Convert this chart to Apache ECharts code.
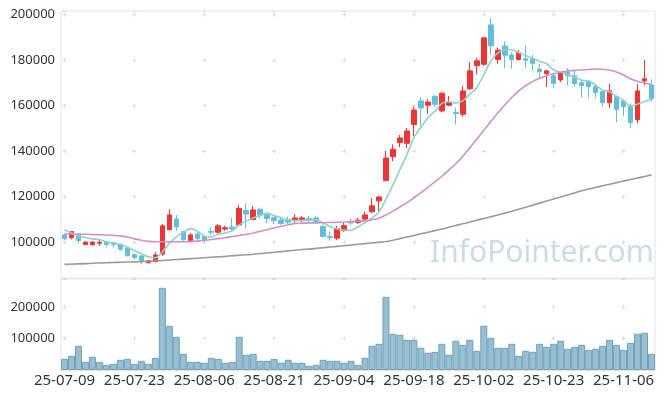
<!DOCTYPE html>
<html>
<head>
<meta charset="utf-8">
<script src="https://cdn.jsdelivr.net/npm/echarts@6/dist/echarts.min.js"></script>
<style>
  html, body { margin: 0; padding: 0; background: #fff; }
  #chart { width: 665px; height: 397px; }
</style>
</head>
<body>
<div id="chart"></div>
<script>
const dates = [
  '25-07-09','25-07-10','25-07-11','25-07-14','25-07-15','25-07-16','25-07-17','25-07-18','25-07-21','25-07-22',
  '25-07-23','25-07-24','25-07-25','25-07-28','25-07-29','25-07-30','25-07-31','25-08-01','25-08-04','25-08-05',
  '25-08-06','25-08-07','25-08-08','25-08-11','25-08-12','25-08-13','25-08-14','25-08-18','25-08-19','25-08-20',
  '25-08-21','25-08-22','25-08-25','25-08-26','25-08-27','25-08-28','25-08-29','25-09-01','25-09-02','25-09-03',
  '25-09-04','25-09-05','25-09-08','25-09-09','25-09-10','25-09-11','25-09-12','25-09-15','25-09-16','25-09-17',
  '25-09-18','25-09-19','25-09-22','25-09-23','25-09-24','25-09-25','25-09-26','25-09-29','25-09-30','25-10-01',
  '25-10-02','25-10-10','25-10-13','25-10-14','25-10-15','25-10-16','25-10-17','25-10-20','25-10-21','25-10-22',
  '25-10-23','25-10-24','25-10-27','25-10-28','25-10-29','25-10-30','25-10-31','25-11-03','25-11-04','25-11-05',
  '25-11-06','25-11-07','25-11-10','25-11-11','25-11-12'
]

const opens = [
  103200,102000,103600,99000,98900,99600,100000,99800,99100,97400,
  94600,94000,91000,91500,94800,105500,110200,104700,100700,103600,
  102500,104800,104400,105800,106700,107600,113900,110000,114500,112100,
  110800,109800,110100,109800,109500,110500,110700,106900,102500,101800,
  105100,109000,108700,110200,113400,118200,127100,137600,143800,143500,
  151700,162100,160200,164100,157700,160200,157100,156200,167400,177600,
  178200,195500,180300,186200,182300,180300,180600,180600,176100,174100,
  173100,171300,174600,173100,170100,170600,168400,166200,161300,164000,
  162100,160000,153900,170900,169100
]
const closes = [
  101600,104700,100800,100100,100100,100000,99000,99100,96900,94100,
  93200,91900,91900,94400,107200,112000,106700,101100,103200,101600,
  101100,104400,107200,106400,105800,114900,112400,114200,111900,110400,
  109500,108200,108900,110700,110700,109800,109200,102500,102000,106000,
  107300,108500,109700,112000,116000,119900,137000,140900,145800,148900,
  158100,159000,161600,160600,165500,161600,156500,166500,175300,179700,
  189800,186300,184400,182200,180200,183300,180000,178600,175000,175300,
  169800,174600,173100,169700,168800,168400,165700,161300,166500,158300,
  159600,152600,166500,171800,163000
]
const lows = [
  101000,101300,99700,98800,98500,98500,97800,97800,96300,93700,
  92500,90300,90700,91200,94000,105300,105000,100700,100000,100900,
  100000,103200,103800,105000,105300,107000,106200,109800,110400,108300,
  107900,107600,108000,108600,108900,108800,108000,102300,100700,101000,
  104700,107500,107900,109800,112800,113700,127000,135600,141700,141400,
  146700,151100,156400,159500,157100,159900,151800,155200,166900,173800,
  177500,182300,178400,176500,176200,179800,176500,175400,172000,168200,
  167600,170400,169000,168400,163700,163700,163700,159400,159000,152700,
  155500,150100,152300,169000,161800
]
const highs = [
  103700,105000,104000,100400,100400,101000,100300,100100,99300,97600,
  95000,94300,92200,95600,108000,114500,112000,105000,104100,104500,
  102800,106600,108000,107200,110800,116400,117000,116000,115300,113000,
  111300,111000,111200,112400,111500,111600,111400,107600,104700,107200,
  108600,110500,110600,113500,119400,120300,140200,143000,147100,150200,
  159600,163700,162800,164600,166000,164300,158900,168800,179100,181000,
  190200,198400,185600,188300,183500,184400,186700,182300,178500,175600,
  174300,174800,176500,175700,171200,171200,169200,166600,169600,164500,
  162800,161000,169400,180100,171600
]
const volumes = [
  35400,44900,76600,25900,41800,25900,16400,19600,32300,35400,
  19600,29100,19600,38600,260100,139900,105100,51300,25900,25900,
  22800,38600,35400,22800,25900,105100,48100,51300,29100,29100,
  35400,22800,32300,22800,22800,13300,16400,32300,29100,29100,
  22800,29100,16400,38600,76600,82900,231600,114600,111400,95600,
  95600,70300,54400,57600,82900,48100,92400,79700,95600,60800,
  139900,101900,70300,70300,82900,44900,60800,57600,82900,73400,
  82900,92400,67100,73400,79700,63900,67100,76600,95600,79700,
  63900,86100,114600,117700,51300
]
const ma5 = [
  105400,104200,102800,102100,101500,101200,100200,99700,99000,97800,
  96400,95000,93600,93200,95700,99500,102400,104300,106000,104900,
  102700,102300,103500,104100,105000,107700,109300,110700,111800,112800,
  111700,110800,109800,109500,109600,109700,109900,108600,106800,105900,
  105400,105300,106700,108700,110700,113300,118900,125200,131900,138500,
  146100,150500,154700,157600,161000,161700,161200,162100,165100,167900,
  173600,179500,183100,184500,184600,183300,182000,180900,179400,178400,
  175700,174700,173600,172500,171200,170900,169100,166800,166100,164000,
  162300,159700,160700,161800,162700
]
const ma20 = [
  103600,103600,103500,103500,103400,103300,103200,103000,102800,102300,
  101500,100900,100400,100200,100200,100200,100200,100200,100300,100500,
  100800,101200,101600,102000,102500,103000,103500,104100,104800,105500,
  106300,107000,107700,108300,108400,108500,108500,108600,108700,108800,
  108900,109100,109200,109400,109900,110600,112000,113700,115500,117400,
  119500,121800,124100,126500,129000,131700,134500,137800,141500,145300,
  149200,153000,156800,160300,163600,166500,168800,170700,172100,173200,
  174000,174700,175200,175500,175700,175900,176100,176000,175600,174800,
  173500,171800,170700,170000,169300
]
const ma120 = [
  90300,90400,90500,90600,90800,90900,91000,91100,91200,91300,
  91400,91500,91600,91800,92000,92200,92400,92600,92800,93000,
  93200,93400,93600,93800,94100,94300,94500,94700,95000,95300,
  95600,95900,96200,96500,96800,97000,97300,97600,97900,98200,
  98500,98800,99100,99400,99700,100000,100300,100900,101600,102300,
  103000,103700,104400,105100,105800,106600,107400,108100,108900,109700,
  110400,111200,112000,112800,113600,114500,115400,116300,117200,118100,
  119000,119900,120800,121700,122600,123400,124100,124800,125500,126200,
  126900,127600,128200,128900,129600
]

const chart = echarts.init(document.getElementById('chart'))

const gridLine = '#e3e3e3'
const crossColor = '#dcdcdc'
// dashes that leave small "+" marks where the split lines cross
const hDash = { color: crossColor, width: 1, type: [4, 65.88], dashOffset: 68.39 }
const plain = v => String(v)

const candles = opens.map((o, i) => [o, closes[i], lows[i], highs[i]])

const option = {
  animation: false,
  backgroundColor: '#fff',
  textStyle: { fontFamily: '"Noto Sans", sans-serif' },
  graphic: [{
    type: 'text',
    left: 430,
    top: 238,
    z: 0,
    style: {
      text: 'InfoPointer.com',
      fill: '#cadce6',
      font: '30px "Noto Sans", sans-serif'
    }
  }],
  grid: [
    { left: 61, right: 10, top: 11, height: 267, show: true, borderColor: gridLine, borderWidth: 1 },
    { left: 61, right: 10, top: 279, height: 91, show: true, borderColor: gridLine, borderWidth: 1 }
  ],
  xAxis: [
    {
      type: 'category', gridIndex: 0, data: dates, boundaryGap: true,
      axisLine: { show: false }, axisTick: { show: false }, axisLabel: { show: false },
      splitLine: { show: true, interval: 9, alignWithLabel: true,
        lineStyle: { color: crossColor, width: 1, type: [4, 41.52], dashOffset: 43.88 } }
    },
    {
      type: 'category', gridIndex: 1, data: dates, boundaryGap: true,
      axisLine: { show: true, lineStyle: { color: gridLine } },
      axisTick: { show: false },
      axisLabel: { interval: 9, color: '#333', fontSize: 15, margin: 3 },
      splitLine: { show: true, interval: 9, alignWithLabel: true,
        lineStyle: { color: crossColor, width: 1, type: [4, 27.6], dashOffset: 5.9 } }
    }
  ],
  yAxis: [
    {
      type: 'value', gridIndex: 0, scale: true, min: 84300, max: 201600,
      axisLine: { show: false }, axisTick: { show: false },
      axisLabel: { color: '#333', fontSize: 13, margin: 6, formatter: plain,
        showMinLabel: false, showMaxLabel: false },
      splitLine: { show: true, lineStyle: hDash }
    },
    {
      type: 'value', gridIndex: 1, min: 0, max: 288000, interval: 100000,
      axisLine: { show: false }, axisTick: { show: false },
      axisLabel: { color: '#333', fontSize: 13, margin: 6, formatter: plain,
        showMinLabel: false, showMaxLabel: false },
      splitLine: { show: true, lineStyle: hDash }
    }
  ],
  series: [
    {
      type: 'candlestick', xAxisIndex: 0, yAxisIndex: 0,
      data: candles,
      barWidth: 5,
      itemStyle: {
        color: '#ec3535', borderColor: '#ec3535',
        color0: '#63bedb', borderColor0: '#63bedb',
        borderWidth: 1
      }
    },
    { type: 'line', name: 'MA5', data: ma5, xAxisIndex: 0, yAxisIndex: 0,
      symbol: 'none', smooth: 0.2, lineStyle: { color: '#8fd2c7', width: 1.6 } },
    { type: 'line', name: 'MA20', data: ma20, xAxisIndex: 0, yAxisIndex: 0,
      symbol: 'none', smooth: 0.2, lineStyle: { color: '#cf90c8', width: 1.6 } },
    { type: 'line', name: 'MA120', data: ma120, xAxisIndex: 0, yAxisIndex: 0,
      symbol: 'none', smooth: 0.2, lineStyle: { color: '#9a9a9a', width: 1.6 } },
    {
      type: 'bar', xAxisIndex: 1, yAxisIndex: 1,
      data: volumes,
      barCategoryGap: '0%',
      itemStyle: { color: '#98bfd1', borderColor: '#70a0b8', borderWidth: 1 }
    }
  ]
}

chart.setOption(option)
</script>
</body>
</html>
